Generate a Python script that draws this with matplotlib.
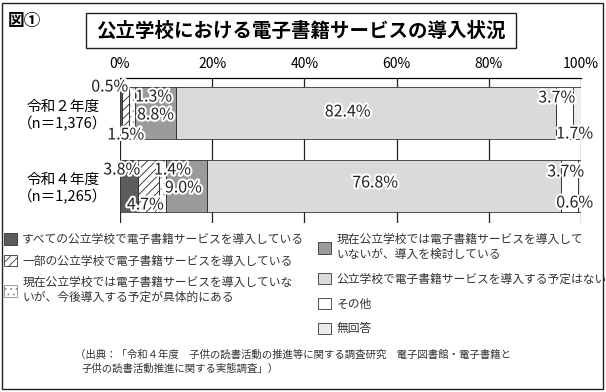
import numpy as np
import matplotlib.pyplot as plt
import matplotlib.patheffects as pe
from matplotlib.patches import Patch, Rectangle

plt.rcParams['font.family'] = ['Noto Sans CJK JP', 'DejaVu Sans']
plt.rcParams['hatch.linewidth'] = 0.6

# data
years = ['令和２年度\n（n＝1,376）', '令和４年度\n（n＝1,265）']
categories = [
    'すべての公立学校で電子書籍サービスを導入している',
    '一部の公立学校で電子書籍サービスを導入している',
    '現在公立学校では電子書籍サービスを導入していな\nいが、今後導入する予定が具体的にある',
    '現在公立学校では電子書籍サービスを導入して\nいないが、導入を検討している',
    '公立学校で電子書籍サービスを導入する予定はない',
    'その他',
    '無回答',
]
r2 = [0.5, 1.5, 1.3, 8.8, 82.4, 3.7, 1.7]
r4 = [3.8, 4.7, 1.4, 9.0, 76.8, 3.7, 0.6]
xticks = [0, 20, 40, 60, 80, 100]

# styles
fills = ['#5c5c5c', 'white', 'white', '#9b9b9b', '#dadada', 'white', '#ececec']
hatches = [None, '////', '...', None, None, None, None]
hatch_cols = ['none', '#222222', '#b0b0b0', 'none', 'none', 'none', 'none']

# label offsets in pixels from segment centre: (dx, dy, ha)
offs = [
    [(7, 26, 'right'), (0, -22, 'center'), (3, 16, 'left'), (0, -2, 'center'),
     (-18, 1, 'center'), (11, 15, 'right'), (-2, -21, 'center')],
    [(-7, 16, 'center'), (-3, -19, 'center'), (10, 16, 'center'), (-3, -2, 'center'),
     (-9, 3, 'center'), (-4, 14, 'center'), (-5, -17, 'center')],
]

W, H = 606, 392
fig = plt.figure(figsize=(W / 100, H / 100), dpi=100)

def fx(px):
    return px / W

def fy(py):
    return 1 - py / H

# outer frame and title box
fig.patches.append(Rectangle((fx(2), fy(389)), fx(601), 386 / H, transform=fig.transFigure,
                             fill=False, edgecolor='#222222', lw=1.0))
fig.patches.append(Rectangle((fx(86), fy(48)), fx(430), 35 / H, transform=fig.transFigure,
                             fill=False, edgecolor='#222222', lw=1.0))
fig.text(fx(8), fy(21), '図①', fontsize=12, fontweight='bold', va='center', ha='left')
fig.text(fx(301), fy(31), '公立学校における電子書籍サービスの導入状況', fontsize=14,
         fontweight='bold', ha='center', va='center')

ax = fig.add_axes([fx(120), fy(223), fx(461), 145 / H])
ypos = np.arange(len(years))
bh = 0.712
stroke = [pe.withStroke(linewidth=3, foreground='white')]

for i, vals in enumerate([r2, r4]):
    left = 0
    for j, v in enumerate(vals):
        ax.barh(ypos[i], v, left=left, height=bh, color=fills[j], hatch=hatches[j],
                edgecolor=hatch_cols[j], linewidth=0, zorder=2)
        ax.barh(ypos[i], v, left=left, height=bh, fill=False,
                edgecolor='#333333', linewidth=0.6, zorder=3)
        dx, dy, ha = offs[i][j]
        ax.annotate(f'{v:.1f}%', (left + v / 2, ypos[i]), xytext=(dx, dy),
                    textcoords='offset pixels', ha=ha, va='center', fontsize=11.5,
                    color='#222222', path_effects=stroke, zorder=5)
        left += v

ax.set_xlim(0, 100)
ax.set_ylim(1.507, -0.479)
for x in xticks:
    ax.axvline(x, color='#222222', lw=0.9, zorder=1)
ax.xaxis.tick_top()
ax.set_xticks(xticks)
ax.set_xticklabels([f'{x}%' for x in xticks], fontsize=10)
ax.tick_params(axis='x', length=0, pad=5)
ax.set_yticks(ypos)
ax.set_yticklabels(years, fontsize=10.5, multialignment='center')
ax.tick_params(axis='y', length=0, pad=9)
for s in ['left', 'right', 'bottom']:
    ax.spines[s].set_visible(False)
ax.spines['top'].set_linewidth(0.9)

# legends (the dotted swatch gets a lighter edge so its dots stay light)
handle_edges = ['#333333', '#333333', '#8a8a8a', '#333333', '#333333', '#333333', '#333333']
handles = [Patch(facecolor=fills[k], hatch=hatches[k],
                 edgecolor=handle_edges[k], linewidth=0.6) for k in range(len(categories))]
leg1 = fig.legend(handles[:3], categories[:3], loc='upper left',
                  bbox_to_anchor=(fx(4), fy(233)), frameon=False, fontsize=8.5,
                  handlelength=1.1, handleheight=1.1, handletextpad=0.45,
                  labelspacing=0.72, borderpad=0, borderaxespad=0, labelcolor='#333333')
leg2 = fig.legend(handles[3:], categories[3:], loc='upper left',
                  bbox_to_anchor=(fx(318), fy(233)), frameon=False, fontsize=8.5,
                  handlelength=1.1, handleheight=1.1, handletextpad=0.45,
                  labelspacing=1.0, borderpad=0, borderaxespad=0, labelcolor='#333333')

fig.text(fx(75), fy(355), '（出典：「令和４年度　子供の読書活動の推進等に関する調査研究　電子図書館・電子書籍と',
         fontsize=7.5, va='center', ha='left', color='#333333')
fig.text(fx(82), fy(369), '子供の読書活動推進に関する実態調査」）',
         fontsize=7.5, va='center', ha='left', color='#333333')

fig.savefig('out.png', dpi=100)
